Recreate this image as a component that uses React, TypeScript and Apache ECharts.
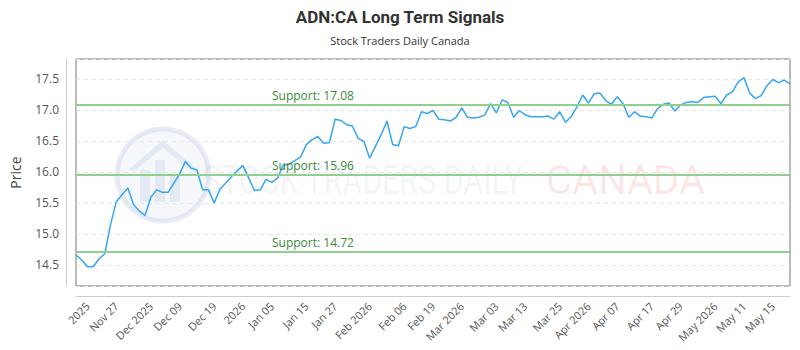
import React, { useEffect, useRef } from "react";
import * as echarts from "echarts";

// ---- data ----
const startDate = "2025-11-17";
const endDate = "2026-05-15";
const holidays = ["2025-12-25", "2025-12-26", "2026-01-01", "2026-02-16", "2026-04-03"];

const prices = [
  14.66, 14.58, 14.47, 14.47, 14.60, 14.68, 15.15, 15.52, 15.63, 15.74,
  15.47, 15.37, 15.30, 15.59, 15.71, 15.67, 15.67, 15.82, 15.97, 16.17,
  16.06, 16.03, 15.71, 15.71, 15.50, 15.72, 15.82, 15.92, 16.02, 16.10,
  15.90, 15.70, 15.71, 15.88, 15.83, 15.90, 16.11, 16.12, 16.18, 16.24,
  16.44, 16.52, 16.57, 16.46, 16.47, 16.85, 16.83, 16.76, 16.74, 16.54,
  16.49, 16.22, 16.41, 16.60, 16.82, 16.44, 16.42, 16.73, 16.70, 16.73,
  16.97, 16.94, 16.99, 16.85, 16.84, 16.82, 16.88, 17.03, 16.88, 16.87,
  16.88, 16.92, 17.10, 16.95, 17.16, 17.12, 16.88, 16.99, 16.92, 16.89,
  16.89, 16.89, 16.90, 16.85, 16.97, 16.80, 16.89, 17.05, 17.24, 17.11,
  17.26, 17.27, 17.15, 17.09, 17.21, 17.10, 16.88, 16.97, 16.90, 16.89,
  16.87, 17.02, 17.09, 17.11, 16.98, 17.08, 17.12, 17.13, 17.12, 17.20,
  17.21, 17.22, 17.10, 17.24, 17.29, 17.45, 17.52, 17.27, 17.18, 17.23,
  17.39, 17.49, 17.44, 17.48, 17.42,
];

const supportLevels = [17.08, 15.96, 14.72];

const tickLabels = [
  "2025", "Nov 27", "Dec 2025", "Dec 09", "Dec 19", "2026", "Jan 05", "Jan 15",
  "Jan 27", "Feb 2026", "Feb 06", "Feb 19", "Mar 2026", "Mar 03", "Mar 13",
  "Mar 25", "Apr 2026", "Apr 07", "Apr 17", "Apr 29", "May 2026", "May 11", "May 15",
];
const tickIndices = [2, 7, 13, 18, 24, 29, 34, 40, 45, 51, 57, 62, 67, 73, 78, 84, 89, 94, 100, 105, 111, 116, 121];

function tradingDays(start: string, end: string, skip: string[]): string[] {
  const out: string[] = [];
  const d = new Date(start + "T00:00:00Z");
  const e = new Date(end + "T00:00:00Z");
  while (d <= e) {
    const wd = d.getUTCDay();
    const s = d.toISOString().slice(0, 10);
    if (wd !== 0 && wd !== 6 && !skip.includes(s)) out.push(s);
    d.setUTCDate(d.getUTCDate() + 1);
  }
  return out;
}

const dates = tradingDays(startDate, endDate, holidays);

export default function App() {
  const ref = useRef<HTMLDivElement>(null);
  useEffect(() => {
    document.body.style.margin = "0";
    if (!ref.current) return;
    const chart = echarts.init(ref.current, null, { renderer: "svg" });
    const font = "'Open Sans', 'Noto Sans', sans-serif";
    chart.setOption({
      animation: false,
      backgroundColor: "#ffffff",
      title: {
        text: "ADN:CA Long Term Signals",
        subtext: "Stock Traders Daily Canada",
        left: "center",
        top: 3,
        itemGap: 10,
        textStyle: { fontFamily: "Roboto, sans-serif", fontSize: 17, fontWeight: "bold", color: "#333" },
        subtextStyle: { fontFamily: font, fontSize: 11, color: "#333" },
      },
      graphic: [
        {
          type: "group",
          silent: true,
          z: 0,
          children: [
            {
              type: "circle",
              shape: { cx: 163, cy: 175, r: 46 },
              style: { fill: "rgba(200,212,230,0.18)", stroke: "rgba(190,200,225,0.35)", lineWidth: 5 },
            },
            { type: "rect", shape: { x: 140, y: 170, width: 10, height: 32 }, style: { fill: "rgba(190,205,230,0.3)" } },
            { type: "rect", shape: { x: 155, y: 160, width: 10, height: 42 }, style: { fill: "rgba(190,205,230,0.3)" } },
            { type: "rect", shape: { x: 170, y: 175, width: 10, height: 27 }, style: { fill: "rgba(190,205,230,0.3)" } },
            {
              type: "polygon",
              shape: { points: [[128, 170], [163, 140], [198, 170], [190, 170], [163, 148], [136, 170]] },
              style: { fill: "rgba(190,205,230,0.3)" },
            },
            {
              type: "text",
              x: 203,
              y: 180,
              scaleX: 0.76,
              style: {
                text: "STOCK TRADERS DAILY",
                font: "40px Roboto, sans-serif",
                fill: "rgba(60,90,150,0.08)",
                verticalAlign: "middle",
              },
            },
            {
              type: "text",
              x: 546,
              y: 180,
              scaleX: 1.0,
              style: {
                text: "CANADA",
                font: "40px Roboto, sans-serif",
                fill: "rgba(230,60,60,0.12)",
                verticalAlign: "middle",
              },
            },
          ],
        },
      ],
      grid: {
        left: 70,
        right: 10,
        top: 59,
        bottom: 64,
        show: true,
        borderColor: "#777",
        borderWidth: 1,
        backgroundColor: "transparent",
      },
      xAxis: {
        type: "category",
        data: dates,
        boundaryGap: false,
        offset: 10,
        axisLine: { show: true, lineStyle: { color: "#ccc" } },
        axisTick: { show: false },
        splitLine: { show: false },
        axisLabel: {
          rotate: 45,
          margin: 8,
          fontSize: 11,
          fontFamily: font,
          color: "#555",
          interval: (idx: number) => tickIndices.includes(idx),
          formatter: (_v: string, idx: number) => {
            const k = tickIndices.indexOf(idx);
            return k >= 0 ? tickLabels[k] : "";
          },
        },
      },
      yAxis: {
        type: "value",
        min: 14.16,
        max: 17.82,
        splitNumber: 7,
        offset: 10,
        name: "Price",
        nameLocation: "middle",
        nameGap: 44,
        nameTextStyle: { fontFamily: font, fontSize: 14, color: "#444" },
        axisLine: { show: true, lineStyle: { color: "#ccc" } },
        axisTick: { show: false },
        axisLabel: {
          margin: 7,
          fontSize: 12,
          fontFamily: font,
          color: "#555",
          showMinLabel: false,
          showMaxLabel: false,
          formatter: (v: number) => v.toFixed(1),
        },
        splitLine: { show: true, lineStyle: { color: "#e6e6e6", type: [4, 4] } },
      },
      series: [
        {
          type: "line",
          data: prices,
          showSymbol: false,
          symbol: "none",
          lineStyle: { color: "#35a5f4", width: 1.5 },
          z: 3,
          markLine: {
            silent: true,
            symbol: "none",
            lineStyle: { color: "#90cf8e", width: 2, type: "solid" },
            label: {
              position: "insideStartTop",
              distance: 3,
              padding: [0, 0, 0, 193],
              fontFamily: font,
              fontSize: 12,
              color: "#3a8a3a",
              formatter: (p: any) => "Support: " + p.value.toFixed(2),
            },
            data: supportLevels.map((v) => ({ yAxis: v })),
          },
        },
      ],
    });
    return () => chart.dispose();
  }, []);
  return <div ref={ref} style={{ width: 800, height: 350 }} />;
}
